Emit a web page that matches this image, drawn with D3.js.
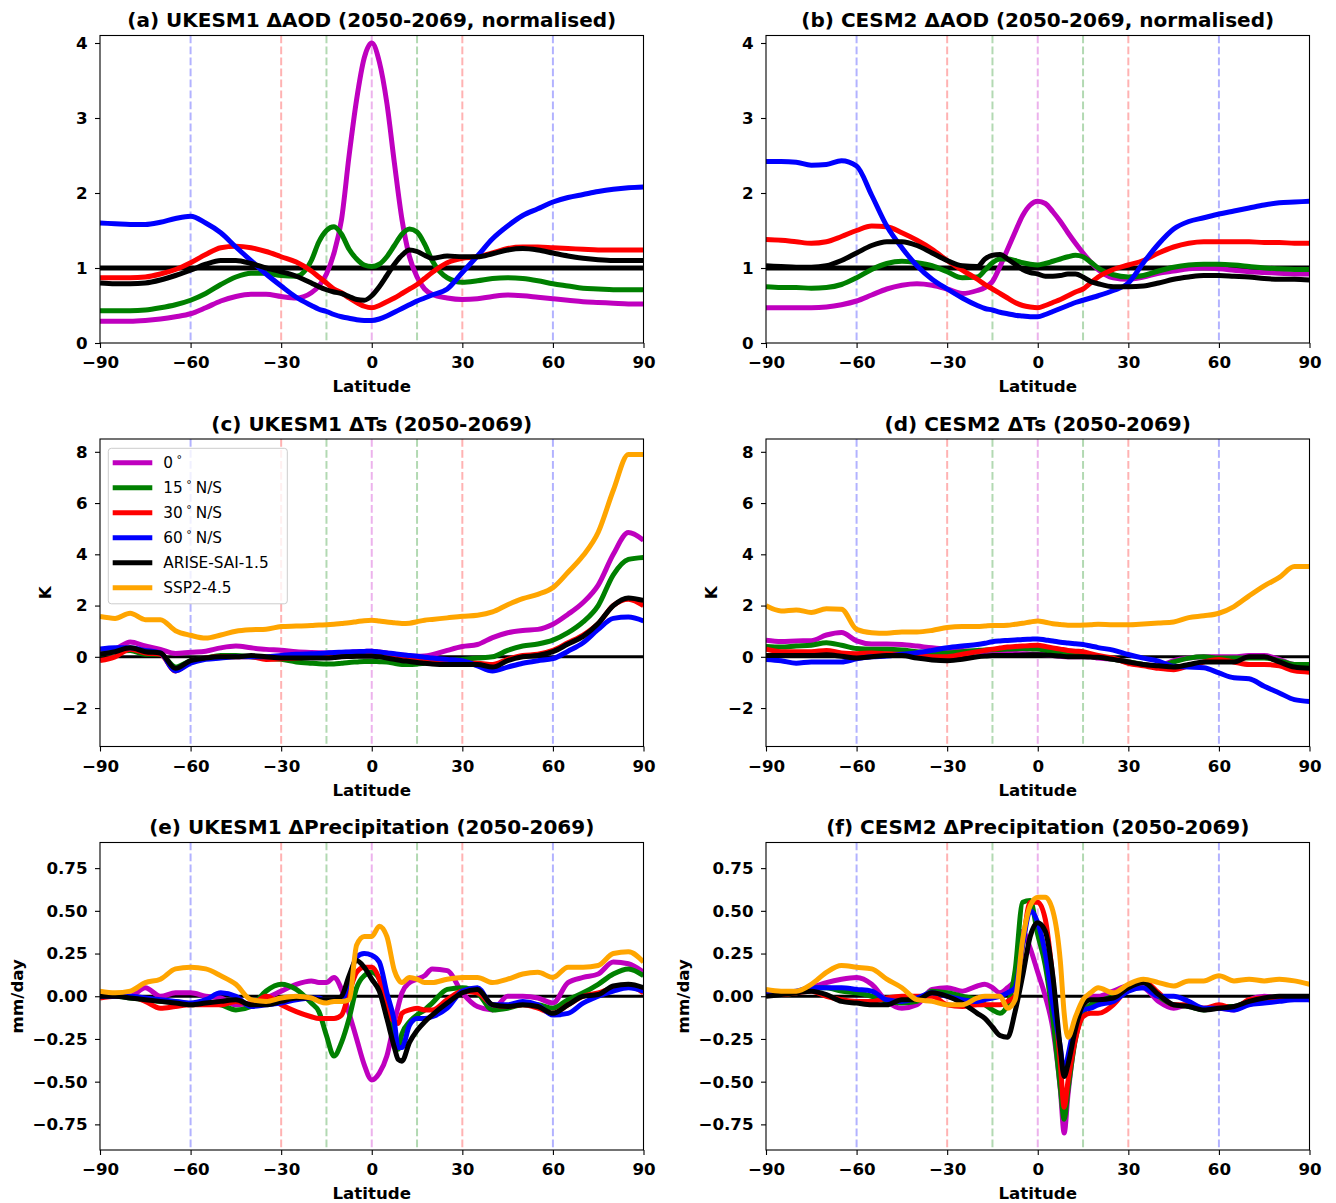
<!DOCTYPE html>
<html>
<head>
<meta charset="utf-8">
<script src="https://cdn.jsdelivr.net/npm/d3@7"></script>
<style>
body{margin:0;background:#fff;}
svg{display:block;font-family:"DejaVu Sans",sans-serif;}
</style>
</head>
<body>
<svg id="chart"></svg>
<script>
// latitude grids (degrees)
var lats = [-90,-85,-80,-75,-70, -65,-60,-55,-50,-45, -40,-35,-30,-25,-20, -17.5,-15,-12.5,-10,-7.5, -5,-2.5,0,2.5,5, 7.5,10,12.5,15,17.5, 20,25,30,35,40, 45,50,55,60,65, 70,75,80,85,90];
var latsPr = [-90,-85,-80,-75,-70, -65,-60,-55,-50,-45, -40,-35,-30,-25,-20, -17.5,-15,-12.5,-10,-7.5, -5,-2.5,0,2.5,5, 7.5,8.75,10,12.5,15,17.5, 20,25,30,35,40, 45,50,55,60,65, 70,75,80,85,90];

// (a) UKESM1 normalised dAOD
var aodUK_0 = [.29,.29,.29,.30,.32, .35,.39,.47,.56,.62, .65,.65,.62,.60,.67, .76,.92,1.2,1.65,2.5, 3.25,3.8,4.0,3.75,3.2, 2.4,1.65,1.15,.88,.72, .65,.60,.58,.59,.62, .64,.63,.61,.59,.57, .55,.54,.53,.52,.52];
var aodUK_15 = [.43,.43,.43,.44,.47, .51,.57,.66,.78,.88, .93,.93,.90,.89,1.1, 1.35,1.5,1.55,1.45,1.25, 1.12,1.04,1.02,1.05,1.15, 1.3,1.45,1.52,1.48,1.32, 1.1,.87,.81,.83,.86, .87,.86,.83,.79,.76, .73,.72,.71,.71,.71];
var aodUK_30 = [.87,.87,.87,.88,.92, .98,1.07,1.18,1.27,1.29, 1.27,1.22,1.15,1.08,.96, .88,.8,.72,.67,.6, .54,.49,.47,.5,.55, .6,.66,.72,.78,.86, .94,1.07,1.13,1.15,1.2, 1.26,1.28,1.28,1.27,1.26, 1.25,1.24,1.24,1.24,1.24];
var aodUK_60 = [1.6,1.59,1.58,1.58,1.61, 1.66,1.69,1.6,1.47,1.28, 1.1,.92,.76,.61,.5, .45,.42,.38,.35,.33, .31,.30,.30,.32,.36, .41,.46,.51,.56,.6, .64,.72,.94,1.16,1.39, 1.56,1.7,1.79,1.88,1.94, 1.98,2.02,2.05,2.07,2.08];
var aodUK_arise = [.8,.79,.79,.8,.84, .9,.97,1.05,1.1,1.1, 1.06,1.0,.95,.89,.8, .75,.71,.68,.66,.62, .58,.57,.63,.75,.9, 1.05,1.17,1.24,1.22,1.17, 1.13,1.16,1.15,1.15,1.19, 1.24,1.26,1.24,1.2,1.16, 1.13,1.11,1.1,1.1,1.1];

// (b) CESM2 normalised dAOD
var aodCE_0 = [.47,.47,.47,.47,.48, .51,.56,.64,.72,.77, .79,.77,.72,.66,.7, .74,.82,1.02,1.25,1.48, 1.7,1.84,1.89,1.86,1.75, 1.62,1.47,1.33,1.2,1.08, .98,.87,.85,.88,.93, .96,.99,1.0,.99,.97, .95,.94,.93,.92,.92];
var aodCE_15 = [.75,.74,.74,.73,.74, .78,.87,.98,1.06,1.09, 1.07,1.03,.95,.87,.88, .97,1.07,1.12,1.12,1.1, 1.07,1.05,1.04,1.06,1.09, 1.12,1.15,1.17,1.15,1.08, 1.0,.91,.88,.9,.96, 1.01,1.04,1.05,1.05,1.04, 1.02,1.0,.99,.98,.98];
var aodCE_30 = [1.38,1.37,1.35,1.33,1.35, 1.42,1.5,1.56,1.55,1.47, 1.37,1.25,1.1,.97,.85, .78,.72,.66,.6,.54, .5,.48,.47,.5,.54, .58,.63,.68,.72,.8, .88,.98,1.04,1.1,1.2, 1.28,1.33,1.35,1.35,1.35, 1.35,1.34,1.34,1.33,1.33];
var aodCE_60 = [2.42,2.42,2.41,2.37,2.38, 2.43,2.36,1.97,1.56,1.27, 1.03,.85,.72,.6,.5, .46,.44,.41,.39,.37, .36,.35,.35,.38,.42, .46,.5,.54,.57,.6, .63,.7,.8,1.07,1.32, 1.52,1.62,1.67,1.72,1.76, 1.8,1.84,1.87,1.88,1.89];
var aodCE_arise = [1.03,1.02,1.01,1.01,1.03, 1.1,1.2,1.3,1.35,1.35, 1.3,1.2,1.1,1.03,1.02, 1.12,1.17,1.18,1.12,1.05, .98,.94,.92,.89,.89, .9,.92,.92,.88,.82, .79,.75,.75,.76,.8, .85,.88,.9,.9,.89, .88,.86,.85,.85,.84];

// (c) UKESM1 dTs (K)
var tsUK_0 = [.26,.31,.58,.42,.29, .13,.18,.22,.35,.42, .35,.29,.26,.2,.17, .16,.15,.16,.17,.18, .2,.21,.22,.19,.15, .1,.07,.04,.02,.03, .08,.25,.4,.48,.75, .94,1.03,1.07,1.27,1.66, 2.12,2.8,4.0,4.85,4.55];
var tsUK_15 = [.1,.2,.25,.1,.1, -.4,-.15,-.05,.05,.05, 0,-.05,-.1,-.2,-.25, -.27,-.28,-.28,-.25,-.22, -.2,-.18,-.18,-.19,-.2, -.25,-.3,-.3,-.28,-.25, -.22,-.15,-.1,-.05,0, .25,.42,.5,.65,.94, 1.36,2.0,3.2,3.8,3.88];
var tsUK_30 = [-.15,0,.3,.15,.1, -.55,-.2,-.05,0,0, 0,-.1,-.08,-.05,0, .03,.05,.06,.08,.09, .1,.1,.1,.08,.05, 0,-.05,-.08,-.1,-.15, -.2,-.25,-.25,-.25,-.3, -.1,.05,.1,.25,.55, .85,1.3,2.0,2.25,2.0];
var tsUK_60 = [.3,.35,.35,.25,.15, -.55,-.25,-.1,-.05,0, 0,0,.05,.1,.12, .13,.15,.17,.18,.19, .2,.21,.22,.19,.15, .12,.08,.05,.02,-.02, -.05,-.1,-.15,-.35,-.55, -.4,-.25,-.15,-.07,.22, .55,1.07,1.5,1.55,1.4];
var tsUK_arise = [.1,.2,.35,.2,.15, -.45,-.15,-.05,0,0, .05,0,-.05,-.05,-.05, -.05,-.05,-.03,0,.01, .02,.02,.02,0,-.05, -.1,-.15,-.18,-.22,-.25, -.28,-.3,-.3,-.3,-.4, -.15,0,.05,.2,.5, .8,1.3,2.0,2.3,2.2];
var tsUK_ssp = [1.57,1.5,1.7,1.45,1.45, 1.02,.84,.73,.85,1.0, 1.06,1.08,1.18,1.2,1.22, 1.24,1.25,1.27,1.3,1.33, 1.37,1.41,1.43,1.4,1.36, 1.33,1.3,1.31,1.37,1.43, 1.46,1.52,1.58,1.62,1.75, 2.03,2.27,2.44,2.7,3.3, 3.95,4.86,6.5,7.9,7.9];

// (d) CESM2 dTs (K)
var tsCE_0 = [.65,.6,.62,.63,.85, .95,.62,.5,.5,.48, .42,.35,.3,.25,.2, .19,.18,.17,.15,.13, .12,.11,.1,.08,.05, .02,0,0,0,0, -.05,-.1,-.2,-.3,-.35, -.15,-.05,0,0,0, .05,.05,-.1,-.3,-.3];
var tsCE_15 = [.4,.38,.42,.45,.55, .45,.32,.3,.3,.27, .2,.15,.15,.2,.25, .27,.28,.29,.3,.31, .32,.31,.3,.25,.2, .15,.1,.08,.05,.03, 0,-.1,-.2,-.3,-.38, -.2,-.05,0,-.05,-.05, -.05,-.05,-.15,-.3,-.3];
var tsCE_30 = [.3,.2,.2,.2,.25, .15,.12,.15,.12,.1, .05,0,0,.1,.2, .25,.3,.34,.38,.4, .42,.44,.45,.4,.35, .3,.25,.22,.2,.12, .05,-.05,-.25,-.35,-.45, -.5,-.35,-.2,-.1,-.2, -.3,-.3,-.35,-.55,-.6];
var tsCE_60 = [-.1,-.15,-.25,-.2,-.2, -.2,-.08,0,.03,.1, .16,.25,.35,.42,.48, .53,.59,.62,.64,.66, .68,.69,.7,.66,.62, .57,.54,.51,.48,.42, .36,.26,.09,-.05,-.17, -.37,-.4,-.43,-.63,-.82, -.86,-1.15,-1.41,-1.67,-1.74];
var tsCE_arise = [.05,.05,.05,.05,.08, .02,-.05,0,.05,.05, -.05,-.12,-.15,-.1,0, .03,.05,.05,.05,.06, .07,.08,.08,.07,.05, .03,0,0,0,-.01, -.02,-.1,-.2,-.3,-.35, -.4,-.3,-.2,-.2,-.2, 0,0,-.2,-.4,-.45];
var tsCE_ssp = [1.99,1.79,1.83,1.73,1.88, 1.86,1.07,.94,.92,.97, .97,1.03,1.14,1.18,1.18, 1.2,1.22,1.22,1.23,1.27, 1.31,1.36,1.4,1.35,1.29, 1.26,1.23,1.23,1.24,1.25, 1.27,1.25,1.25,1.28,1.32, 1.36,1.53,1.6,1.7,1.96, 2.38,2.77,3.1,3.52,3.52];

// (e) UKESM1 dPrecipitation (mm/day), on latsPr
var prUK_0 = [0,0,0,.05,0, .02,.02,0,-.01,-.05, -.04,-.01,.03,.07,.09, .08,.08,.11,.04,-.1, -.25,-.4,-.49,-.45,-.35, -.15,-.06,.02,.08,.1,.12, .16,.15,.02,-.06,-.08, 0,0,-.01,-.04,.08, .11,.13,.2,.19,.14];
var prUK_15 = [0,0,-.01,-.02,-.03, -.03,-.05,-.04,-.05,-.08, -.06,.03,.07,.04,-.04, -.09,-.23,-.35,-.27,-.13, .05,.12,.14,.1,-.04, -.25,-.31,-.22,-.15,-.11,-.08, -.04,.04,.05,.02,-.08, -.07,-.05,-.05,-.07,-.02, .02,.07,.13,.16,.12];
var prUK_30 = [-.01,0,0,-.03,-.07, -.06,-.05,-.05,-.05,-.03, -.05,0,-.05,-.09,-.12, -.13,-.13,-.13,-.11,.02, .14,.17,.17,.1,-.08, -.15,-.16,-.1,-.08,-.07,-.08, -.08,-.02,.03,.02,-.05, -.06,-.05,-.07,-.1,-.05, 0,.02,.05,.06,.02];
var prUK_60 = [0,0,0,-.01,-.02, -.03,-.04,-.02,.02,0, -.06,-.05,-.04,-.02,-.01, -.01,-.03,-.02,-.03,.1, .23,.25,.24,.2,.02, -.15,-.3,-.3,-.17,-.13,-.13, -.12,-.07,.03,.05,-.05, -.05,-.03,-.05,-.11,-.1, -.04,0,.03,.05,.03];
var prUK_arise = [0,0,-.01,-.02,-.03, -.04,-.05,-.04,-.03,-.02, -.05,-.05,-.03,-.01,-.01, -.02,-.02,-.02,0,.12, .21,.17,.1,.03,-.13, -.3,-.37,-.38,-.27,-.2,-.15, -.11,-.04,.02,.04,-.05, -.06,-.05,-.06,-.1,-.05, 0,.01,.06,.07,.05];
var prUK_ssp = [.03,.02,.03,.08,.1, .16,.17,.16,.12,.07, -.02,-.03,-.01,0,-.01, -.03,-.04,-.03,-.03,-.02, .3,.35,.35,.41,.35, .15,.1,.08,.11,.1,.08, .08,.1,.11,.11,.08, .1,.13,.14,.11,.17, .17,.18,.25,.26,.2];

// (f) CESM2 dPrecipitation (mm/day), on latsPr
var prCE_0 = [.01,.02,.02,.05,.08, .1,.11,.07,-.03,-.07, -.05,.04,.05,.03,.06, .07,.05,.02,.05,.1, .38,.28,.14,0,-.19, -.55,-.8,-.58,-.23,-.07,0, 0,.03,.06,.05,-.03, -.07,-.05,-.07,-.07,-.08, -.02,0,-.01,-.01,-.01];
var prCE_15 = [.01,.01,.02,.05,.05, .03,.02,0,-.03,-.04, -.03,.03,.02,0,-.02, -.05,-.08,-.1,-.05,.15, .55,.56,.36,.18,-.13, -.54,-.72,-.55,-.25,-.1,-.05, -.03,0,.06,.08,0, -.05,-.06,-.08,-.06,-.06, -.03,-.02,-.01,-.01,-.02];
var prCE_30 = [.01,.01,.02,.03,0, -.02,-.03,-.03,-.01,0, 0,0,-.05,-.06,-.05, -.05,-.05,-.05,-.03,0, .3,.55,.55,.45,.1, -.4,-.65,-.5,-.25,-.12,-.1, -.1,-.05,.05,.09,.02, -.05,-.05,-.07,-.05,-.07, -.02,-.01,-.02,-.01,-.01];
var prCE_60 = [.01,.02,.03,.05,.05, .05,.04,.03,-.02,-.03, -.01,.02,0,-.02,-.03, -.02,-.01,0,.02,.05, .3,.5,.43,.25,-.05, -.3,-.45,-.35,-.15,-.08,-.07, -.05,-.03,.03,.05,0, 0,-.03,-.07,-.07,-.08, -.05,-.04,-.03,-.02,-.02];
var prCE_arise = [0,.01,.02,.03,.01, -.03,-.04,-.05,-.05,-.02, -.02,.02,0,-.04,-.1, -.13,-.18,-.23,-.24,-.09, .12,.35,.43,.38,.12, -.31,-.47,-.4,-.19,-.05,-.02, -.02,-.01,.05,.08,.01, -.05,-.06,-.08,-.07,-.06, -.03,-.01,0,0,0];
var prCE_ssp = [.04,.03,.03,.07,.14, .18,.17,.16,.1,.05, -.02,-.03,-.05,-.05,-.01, 0,0,0,-.07,-.02, .33,.53,.58,.58,.5, .2,-.1,-.24,-.12,-.02,.02, .05,.02,.07,.1,.08, .06,.09,.09,.12,.09, .1,.09,.1,.09,.07];

// labels and ticks
var seriesLabels = ["0", "15", "30", "60", "ARISE-SAI-1.5", "SSP2-4.5"];
var seriesColors = ["#bf00bf", "#008000", "#ff0000", "#0000ff", "#000000", "#ffa500"];
var guideLats = [-60, -30, -15, 0, 15, 30, 60];
var guideColors = ["#0000ff", "#ff0000", "#008000", "#bf00bf", "#008000", "#ff0000", "#0000ff"];
var xTicks = [-90, -60, -30, 0, 30, 60, 90];

var width = 1336, height = 1203;
var colLeft = [100, 766];
var rowTop = [35.5, 439, 842.5];
var plotW = 543.5, plotH = 307.5;
var fontBase = "16.67px";

var panels = [
  {title: "(a) UKESM1 \u0394AOD (2050-2069, normalised)", col: 0, row: 0, yDom: [0, 4.1], yTicks: [0,1,2,3,4], fmt: "d", lat: lats, ref: 1, refW: 5,
   lines: [aodUK_0, aodUK_15, aodUK_30, aodUK_60, aodUK_arise]},
  {title: "(b) CESM2 \u0394AOD (2050-2069, normalised)", col: 1, row: 0, yDom: [0, 4.1], yTicks: [0,1,2,3,4], fmt: "d", lat: lats, ref: 1, refW: 5,
   lines: [aodCE_0, aodCE_15, aodCE_30, aodCE_60, aodCE_arise]},
  {title: "(c) UKESM1 \u0394Ts (2050-2069)", col: 0, row: 1, yDom: [-3.5, 8.5], yTicks: [-2,0,2,4,6,8], fmt: "d", lat: lats, ref: 0, refW: 3, ylabel: "K", legend: true,
   lines: [tsUK_0, tsUK_15, tsUK_30, tsUK_60, tsUK_arise, tsUK_ssp]},
  {title: "(d) CESM2 \u0394Ts (2050-2069)", col: 1, row: 1, yDom: [-3.5, 8.5], yTicks: [-2,0,2,4,6,8], fmt: "d", lat: lats, ref: 0, refW: 3, ylabel: "K",
   lines: [tsCE_0, tsCE_15, tsCE_30, tsCE_60, tsCE_arise, tsCE_ssp]},
  {title: "(e) UKESM1 \u0394Precipitation (2050-2069)", col: 0, row: 2, yDom: [-0.9, 0.9], yTicks: [-0.75,-0.5,-0.25,0,0.25,0.5,0.75], fmt: ".2f", lat: latsPr, ref: 0, refW: 3, ylabel: "mm/day",
   lines: [prUK_0, prUK_15, prUK_30, prUK_60, prUK_arise, prUK_ssp]},
  {title: "(f) CESM2 \u0394Precipitation (2050-2069)", col: 1, row: 2, yDom: [-0.9, 0.9], yTicks: [-0.75,-0.5,-0.25,0,0.25,0.5,0.75], fmt: ".2f", lat: latsPr, ref: 0, refW: 3, ylabel: "mm/day",
   lines: [prCE_0, prCE_15, prCE_30, prCE_60, prCE_arise, prCE_ssp]}
];

var svg = d3.select("#chart").attr("width", width).attr("height", height);
svg.append("rect").attr("width", width).attr("height", height).attr("fill", "#fff");

panels.forEach(function(p, k) {
  var g = svg.append("g").attr("transform", "translate(" + colLeft[p.col] + "," + rowTop[p.row] + ")");
  var x = d3.scaleLinear().domain([-90, 90]).range([0, plotW]);
  var y = d3.scaleLinear().domain(p.yDom).range([plotH, 0]);

  g.append("clipPath").attr("id", "clip" + k)
    .append("rect").attr("width", plotW).attr("height", plotH);

  var plot = g.append("g").attr("clip-path", "url(#clip" + k + ")");

  // dashed guide lines at the injection latitudes
  plot.selectAll("line.guide")
    .data(guideLats)
    .enter()
    .append("line")
      .attr("class", "guide")
      .attr("x1", d => x(d)).attr("x2", d => x(d))
      .attr("y1", 0).attr("y2", plotH)
      .attr("stroke", (d, i) => guideColors[i])
      .attr("stroke-opacity", 0.3)
      .attr("stroke-width", 2)
      .attr("stroke-dasharray", "7.7,3.3");

  // reference line
  plot.append("line")
    .attr("x1", 0).attr("x2", plotW)
    .attr("y1", y(p.ref)).attr("y2", y(p.ref))
    .attr("stroke", "#000").attr("stroke-width", p.refW);

  var line = d3.line()
    .x((d, i) => x(p.lat[i]))
    .y(d => y(d))
    .curve(d3.curveMonotoneX);

  plot.selectAll("path.series")
    .data(p.lines)
    .enter()
    .append("path")
      .attr("class", "series")
      .attr("d", d => line(d))
      .attr("fill", "none")
      .attr("stroke", (d, i) => seriesColors[i])
      .attr("stroke-width", 5)
      .attr("stroke-linejoin", "round");

  // axes
  var xAxis = d3.axisBottom(x).tickValues(xTicks).tickSize(5).tickSizeOuter(0).tickPadding(8.5);
  var yAxis = d3.axisLeft(y).tickValues(p.yTicks).tickSize(5).tickSizeOuter(0).tickPadding(7.5)
    .tickFormat(d3.format(p.fmt));

  var gx = g.append("g").attr("transform", "translate(0," + plotH + ")").call(xAxis);
  var gy = g.append("g").call(yAxis);
  [gx, gy].forEach(function(a) {
    a.select(".domain").remove();
    a.selectAll(".tick line").attr("stroke", "#000").attr("stroke-width", 1.1);
    a.selectAll(".tick text")
      .attr("fill", "#000")
      .style("font-family", "DejaVu Sans")
      .style("font-size", fontBase)
      .style("font-weight", "bold");
  });

  // frame
  g.append("rect")
    .attr("width", plotW).attr("height", plotH)
    .attr("fill", "none").attr("stroke", "#000").attr("stroke-width", 1.1);

  // title
  g.append("text")
    .attr("x", plotW / 2).attr("y", -8.5)
    .style("text-anchor", "middle")
    .style("font-size", "20px")
    .style("font-weight", "bold")
    .text(p.title);

  // x label
  g.append("text")
    .attr("x", plotW / 2).attr("y", plotH + 49)
    .style("text-anchor", "middle")
    .style("font-size", fontBase)
    .style("font-weight", "bold")
    .text("Latitude");

  // y label
  if (p.ylabel) {
    var lx = p.ylabel === "K" ? -55 : -83;
    g.append("text")
      .attr("transform", "translate(" + lx + "," + (plotH / 2) + ") rotate(-90)")
      .attr("dy", "0.35em")
      .style("text-anchor", "middle")
      .style("font-size", fontBase)
      .style("font-weight", "bold")
      .text(p.ylabel);
  }

  // legend
  if (p.legend) {
    var lg = g.append("g").attr("transform", "translate(8.3,9.3)");
    lg.append("rect")
      .attr("width", 179).attr("height", 155.5).attr("rx", 3)
      .attr("fill", "#fff").attr("fill-opacity", 0.8)
      .attr("stroke", "#ccc").attr("stroke-width", 1);
    seriesLabels.forEach(function(lab, i) {
      var cy = 14.4 + i * 25;
      lg.append("line")
        .attr("x1", 4.4).attr("x2", 44)
        .attr("y1", cy).attr("y2", cy)
        .attr("stroke", seriesColors[i]).attr("stroke-width", 5);
      var t = lg.append("text")
        .attr("x", 55).attr("y", cy).attr("dy", "0.36em")
        .style("font-size", "15.3px");
      if (i < 4) {
        t.append("tspan").text(lab);
        t.append("tspan").attr("dx", 3.5).attr("dy", -5).style("font-size", "11px").text("\u00b0");
        if (i > 0) t.append("tspan").attr("dx", 4).attr("dy", 5).text("N/S");
      } else {
        t.text(lab);
      }
    });
  }
});
</script>
</body>
</html>
